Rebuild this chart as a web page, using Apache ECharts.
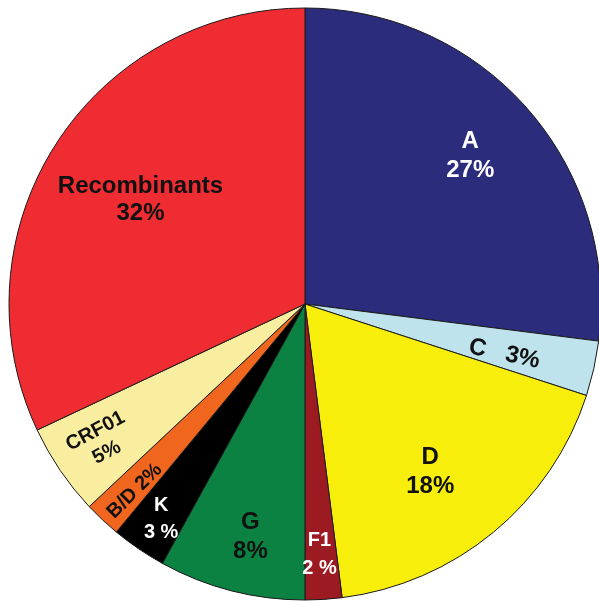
<!DOCTYPE html>
<html>
<head>
<meta charset="utf-8">
<script src="https://cdn.jsdelivr.net/npm/echarts@6/dist/echarts.min.js"></script>
<style>html,body{margin:0;padding:0;background:#fff;}#c{width:599px;height:601px;}</style>
</head>
<body>
<div id="c"></div>
<script>
var categories = ['A', 'C', 'D', 'F1', 'G', 'K', 'B/D', 'CRF01', 'Recombinants'];
var values = [27, 3, 18, 2, 8, 3, 2, 5, 32];
var colors = ['#2B2C7C', '#BEE3EC', '#F7EE0C', '#9C1B22', '#0B8142', '#000000', '#F0661F', '#F9EEA0', '#EE2C32'];
var textColors = ['#ffffff', '#111111', '#111111', '#ffffff', '#111111', '#ffffff', '#111111', '#111111', '#111111'];
var labelTexts = ['A\n27%', 'C   3%', 'D\n18%', 'F1\n2 %', 'G\n8%', 'K\n3 %', 'B/D 2%', 'CRF01\n5%', 'Recombinants\n32%'];
// label shifts (screen pixels) from the default inside position, rotations and sizes
var labelShift = [[52, -48], [52, 17], [29, 52], [5, 100], [-17, 87], [-59, 90], [-67, 77], [-79, 53], [-37, -23]];
var labelRotate = [0, -12, 0, 0, 0, 0, 45, 28, 0];
var labelSize = [24, 24, 24, 20, 24, 20, 20, 20, 24];
var labelLineH = [29, 28, 29, 28, 29, 27, 24, 24, 27];

var chart = echarts.init(document.getElementById('c'));
var data = categories.map(function (name, i) {
  return {
    name: name,
    value: values[i],
    itemStyle: { color: colors[i] },
    label: {
      formatter: labelTexts[i],
      color: textColors[i],
      rotate: labelRotate[i],
      fontSize: labelSize[i],
      lineHeight: labelLineH[i]
    }
  };
});
chart.setOption({
  animation: false,
  series: [{
    type: 'pie',
    center: [305, 304],
    radius: [0, 296],
    startAngle: 90,
    clockwise: true,
    data: data,
    itemStyle: { borderColor: '#1a1a1a', borderWidth: 1 },
    label: {
      show: true,
      position: 'inside',
      fontFamily: 'Liberation Sans, Arial, sans-serif',
      fontWeight: 'bold',
      align: 'center'
    },
    labelLine: { show: false },
    emphasis: { disabled: true },
    labelLayout: function (p) {
      var i = p.dataIndex;
      var g = labelShift[i];
      var t = labelRotate[i] * Math.PI / 180;
      // dx/dy are applied in the label's rotated frame
      return {
        dx: g[0] * Math.cos(t) - g[1] * Math.sin(t),
        dy: g[0] * Math.sin(t) + g[1] * Math.cos(t)
      };
    }
  }]
});
</script>
</body>
</html>
